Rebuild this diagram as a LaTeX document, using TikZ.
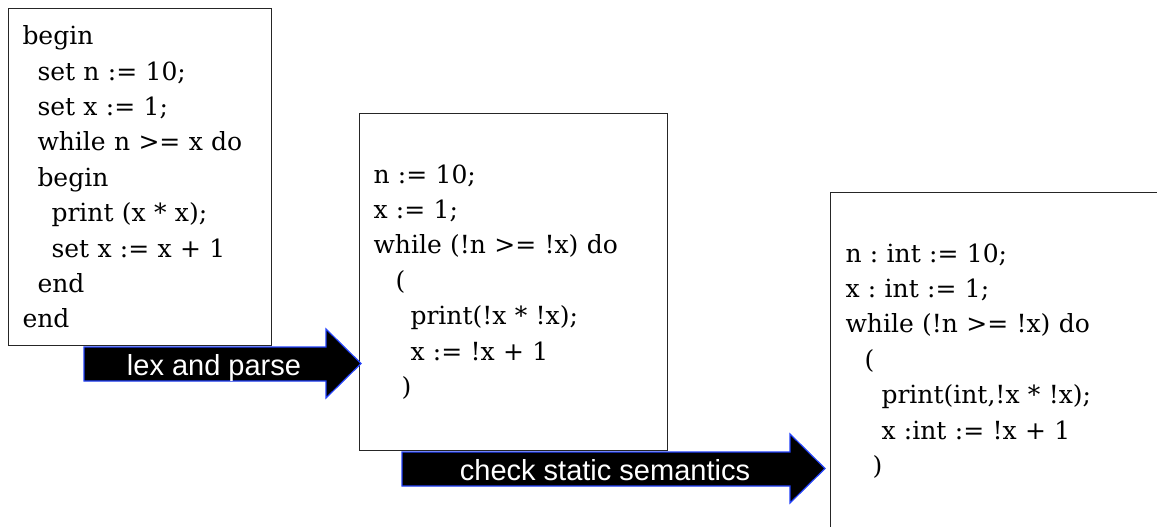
\documentclass[tikz,border=0pt]{standalone}
\usepackage{fontspec}
\setmainfont{DejaVu Serif}
\newfontfamily\labelfont{Liberation Sans}
\definecolor{arrowblue}{RGB}{35,65,250}
\frenchspacing
\tikzset{
  codebox/.style={draw=black!85, line width=1pt, fill=white, align=left,
    inner xsep=14pt, inner ysep=0pt, anchor=north west,
    font=\fontsize{25}{35.4}\selectfont\frenchspacing},
  blockarrow/.style={fill=black, draw=arrowblue, line width=1.2pt, line join=miter},
  arrowlabel/.style={text=white, font=\labelfont\fontsize{29}{30}\selectfont, anchor=base, inner sep=0pt}
}
\newcommand{\ind}[1]{\hspace*{#1pt}}
\begin{document}
\begin{tikzpicture}[x=1pt,y=-1pt]
\useasboundingbox[fill=white] (0,0) rectangle (1157,527);
% boxes
\node[codebox, text width=235pt, minimum height=337pt] (src) at (8,8) {%
begin\\
\ind{15}set n := 10;\\
\ind{15}set x := 1;\\
\ind{15}while n >= x do\\
\ind{15}begin\\
\ind{29}print (x * x);\\
\ind{29}set x := x + 1\\
\ind{15}end\\
end};
\node[codebox, text width=280pt, minimum height=337pt] (ast) at (359,113) {%
n := 10;\\
x := 1;\\
while (!n >= !x) do\\
\ind{22}(\\
\ind{37}print(!x * !x);\\
\ind{37}x := !x + 1\\
\ind{28})};
\node[codebox, inner xsep=15pt, text width=310pt, minimum height=337pt] (typed) at (830,192) {%
n : int := 10;\\
x : int := 1;\\
while (!n >= !x) do\\
\ind{19}(\\
\ind{36}print(int,!x * !x);\\
\ind{36}x :int := !x + 1\\
\ind{27})};
% block arrows
\draw[blockarrow] (84,347) -- (326,347) -- (326,329) -- (361,363.5) -- (326,398) -- (326,381) -- (84,381) -- cycle;
\node[arrowlabel] (lp) at (214,375) {lex and parse};
\draw[blockarrow] (402,452) -- (790,452) -- (790,434) -- (825,468.5) -- (790,503) -- (790,486) -- (402,486) -- cycle;
\node[arrowlabel] (css) at (605,480) {check static semantics};
\end{tikzpicture}
\end{document}
